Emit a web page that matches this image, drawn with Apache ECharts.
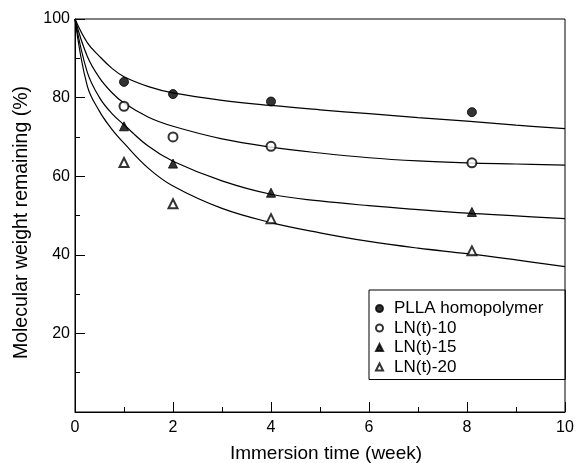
<!DOCTYPE html>
<html><head><meta charset="utf-8">
<script src="https://cdn.jsdelivr.net/npm/echarts@6/dist/echarts.min.js"></script>
<style>html,body{margin:0;padding:0;background:#fff}#c{width:576px;height:463px}</style>
</head><body><div id="c"></div>
<script>
// Measured points
var weeks = [1, 2, 4, 8.1];
var pllaPts = [84.0, 80.9, 79.0, 76.3];
var ln10Pts = [77.8, 70.0, 67.6, 63.4];
var ln15Pts = [72.7, 63.2, 55.8, 50.9];
var ln20Pts = [63.5, 53.0, 49.2, 41.0];

// Fitted curves
var curveX = [0, 0.25, 0.5, 0.75, 1, 1.5, 2, 3, 4, 5, 6, 7, 8, 9, 10];
var pllaCurve = [100, 94, 90.5, 87.5, 85.3, 82.8, 81.2, 79.3, 78.0, 76.9, 75.9, 74.9, 74.0, 73.0, 72.1];
var ln10Curve = [100, 90.5, 85, 81.3, 78.6, 75.0, 72.7, 69.5, 67.4, 65.9, 64.7, 63.9, 63.4, 63.1, 62.8];
var ln15Curve = [100, 86.5, 80, 76, 73.1, 67.6, 63.8, 58.8, 55.4, 53.7, 52.5, 51.5, 50.6, 49.9, 49.2];
var ln20Curve = [100, 83, 76.5, 72, 68.4, 62.0, 57.5, 51.8, 48.2, 45.6, 43.4, 41.7, 40.3, 38.7, 37.0];

var names = ['PLLA homopolymer', 'LN(t)-10', 'LN(t)-15', 'LN(t)-20'];
var symbols = ['circle', 'emptyCircle', 'triangle', 'emptyTriangle'];
var xTicks = [0, 2, 4, 6, 8, 10];
var yTicks = [20, 40, 60, 80, 100];

function zip(xs, ys) { return xs.map(function (x, i) { return [x, ys[i]]; }); }

var FONT = 'Liberation Sans, Arial, sans-serif';
var pts = [pllaPts, ln10Pts, ln15Pts, ln20Pts];
var curves = [pllaCurve, ln10Curve, ln15Curve, ln20Curve];

var series = [];
curves.forEach(function (c) {
  series.push({
    type: 'line', data: zip(curveX, c), smooth: 0.4,
    showSymbol: false, silent: true,
    lineStyle: { color: '#000', width: 1.2 }, z: 2
  });
});
pts.forEach(function (p, i) {
  series.push({
    type: 'scatter', name: names[i], data: zip(weeks, p), symbol: symbols[i],
    symbolSize: 9,
    itemStyle: { color: '#000', borderColor: '#000', borderWidth: 1 }, z: 3
  });
});

var chart = echarts.init(document.getElementById('c'));
chart.setOption({
  animation: false,
  backgroundColor: '#fff',
  grid: { left: 75, right: 11, top: 19, bottom: 51, show: true, borderColor: '#000', borderWidth: 1,
          containLabel: false, outerBoundsMode: 'none' },
  xAxis: {
    type: 'value', min: 0, max: 10, interval: 2,
    name: 'Immersion time (week)', nameLocation: 'middle', nameGap: 32,
    nameTextStyle: { fontSize: 19, color: '#000', fontFamily: FONT, padding: [0, 0, 0, 12] },
    axisLine: { lineStyle: { color: '#000', width: 1 } },
    axisTick: { inside: true, length: 10, lineStyle: { color: '#000' } },
    minorTick: { show: true, splitNumber: 2, length: 5, lineStyle: { color: '#000' } },
    splitLine: { show: false },
    axisLabel: { fontSize: 16, color: '#000', fontFamily: FONT, margin: 8,
      formatter: function (v) { return xTicks.indexOf(v) >= 0 ? String(v) : ''; } }
  },
  yAxis: {
    type: 'value', min: 0, max: 100, interval: 20,
    name: 'Molecular weight remaining (%)', nameLocation: 'middle', nameGap: 43,
    nameTextStyle: { fontSize: 19.5, color: '#000', fontFamily: FONT, padding: [0, 14, 0, 0] },
    axisLine: { lineStyle: { color: '#000', width: 1 } },
    axisTick: { inside: true, length: 10, lineStyle: { color: '#000' } },
    minorTick: { show: true, splitNumber: 2, length: 5, lineStyle: { color: '#000' } },
    splitLine: { show: false },
    axisLabel: { fontSize: 16, color: '#000', fontFamily: FONT, margin: 5,
      formatter: function (v) { return yTicks.indexOf(v) >= 0 ? String(v) : ''; } }
  },
  legend: {
    data: names, orient: 'vertical', left: 369, top: 290,
    itemWidth: 7, itemHeight: 7, itemGap: 2.5,
    borderColor: '#000', borderWidth: 1, borderRadius: 0,
    padding: [10, 22, 4, 6],
    textStyle: { fontSize: 17, lineHeight: 17, color: '#000', fontFamily: FONT, padding: [0, 0, 0, 6] }
  },
  series: series
});
</script></body></html>
